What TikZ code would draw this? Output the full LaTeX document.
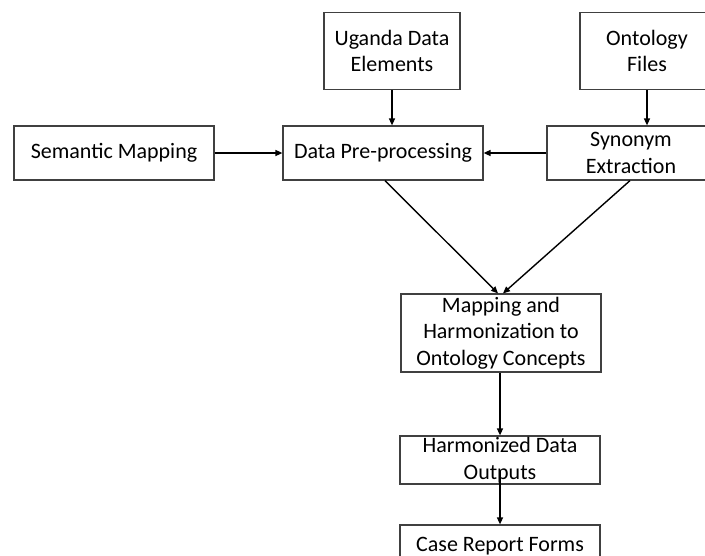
\documentclass[tikz,border=0pt]{standalone}
\usepackage{fontspec}
\setmainfont{Carlito}
\usetikzlibrary{arrows.meta,calc}
\begin{document}
\begin{tikzpicture}[x=1pt,y=-1pt,
  box/.style={draw=black!75,line width=1.2pt,inner sep=0pt,align=center,
    font=\fontsize{22}{26.5}\selectfont,text=black},
  conn/.style={line width=1.4pt,-{Triangle[length=7pt,width=6pt]}}]
\useasboundingbox (0,0) rectangle (705,555);
\clip (0,0) rectangle (705,555);
\fill[white] (0,0) rectangle (705,555);
\node[box,minimum width=136pt,minimum height=77pt] (ug) at (392,51) {Uganda Data\\Elements};
\node[box,minimum width=134pt,minimum height=77pt] (onto) at (647,51) {Ontology\\Files};
\node[box,minimum width=200pt,minimum height=54pt] (sem) at (114,153) {Semantic Mapping};
\node[box,minimum width=200pt,minimum height=54pt] (pre) at (383,153) {Data Pre-processing};
\node[box,minimum width=168pt,minimum height=54pt] (syn) at (631,153) {Synonym\\Extraction};
\node[box,minimum width=200pt,minimum height=78pt] (map) at (501,333) {Mapping and\\Harmonization to\\Ontology Concepts};
\node[box,minimum width=200pt,minimum height=48pt] (harm) at (500,460) {Harmonized Data\\Outputs};
\node[box,minimum width=200pt,minimum height=42pt] (crf) at (500,546) {Case Report Forms};
\coordinate (harmin) at ($(harm.south)+(0,-14)$);
\draw[conn] (ug.south) -- (ug.south |- pre.north);
\draw[conn] (onto.south) -- (onto.south |- syn.north);
\draw[conn] (sem.east) -- (sem.east -| pre.west);
\draw[conn] (syn.west) -- (syn.west -| pre.east);
\draw[conn] ($(pre.south)+(2,0)$) -- ($(map.north)+(-3,0)$);
\draw[conn] ($(syn.south)+(-1,0)$) -- ($(map.north)+(2,0)$);
\draw[conn] ($(map.south)+(-1,0)$) -- ($(harm.north)$);
\draw[conn] (harmin) -- (crf.north);
\end{tikzpicture}
\end{document}
